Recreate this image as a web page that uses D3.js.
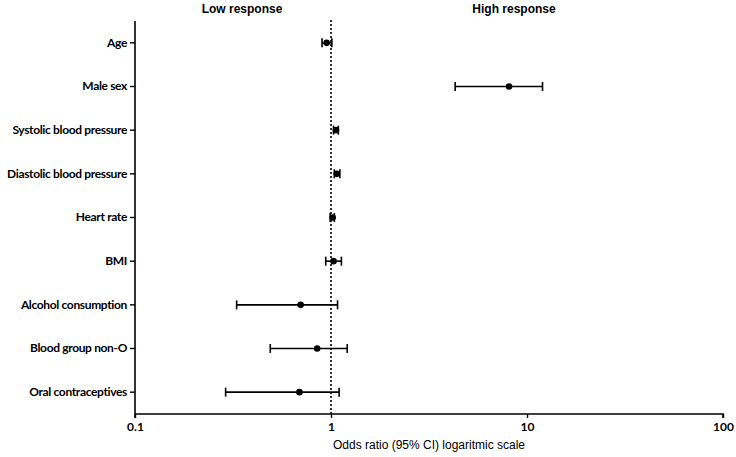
<!DOCTYPE html>
<html>
<head>
<meta charset="utf-8">
<script src="https://cdn.jsdelivr.net/npm/d3@7"></script>
<style>
  body { margin: 0; background: #fff; }
  svg { display: block; }
  .ylab text { font-family: Lato, "Open Sans", sans-serif; font-weight: 700; font-size: 12px; letter-spacing: -0.35px; fill: #000; }
  .xlab text { font-family: Lato, "Open Sans", sans-serif; font-weight: 700; font-size: 12px; fill: #000; }
  .head { font-family: "Liberation Sans", Arial, sans-serif; font-weight: 700; font-size: 12px; }
  .axis-title { font-family: "Liberation Sans", Arial, sans-serif; font-size: 12px; }
</style>
</head>
<body>
<div id="chart"></div>
<script>
// data
var factors = ["Age", "Male sex", "Systolic blood pressure", "Diastolic blood pressure",
    "Heart rate", "BMI", "Alcohol consumption", "Blood group non-O", "Oral contraceptives"];
var oddsRatio = [0.95, 8.1, 1.06, 1.07, 1.02, 1.03, 0.70, 0.85, 0.69];
var ciLow     = [0.90, 4.3, 1.03, 1.04, 0.99, 0.94, 0.33, 0.49, 0.29];
var ciHigh    = [1.01, 12.0, 1.09, 1.11, 1.04, 1.13, 1.08, 1.21, 1.10];
var xTicks = [0.1, 1, 10, 100];

var data = factors.map((f, i) => ({ name: f, or: oddsRatio[i], lo: ciLow[i], hi: ciHigh[i] }));

var svgWidth = 736, svgHeight = 457;
var margin = { top: 21, right: 13, bottom: 43, left: 135 };
var chartWidth = svgWidth - margin.left - margin.right;
var chartHeight = svgHeight - margin.top - margin.bottom;

var svg = d3.select("#chart")
    .append("svg")
    .attr("width", svgWidth)
    .attr("height", svgHeight);

var chartGroup = svg.append("g")
    .attr("transform", `translate(${margin.left}, ${margin.top})`);

// scales
var xScale = d3.scaleLog()
    .domain([0.1, 100])
    .range([0, chartWidth]);

var yScale = d3.scaleBand()
    .domain(factors)
    .range([0, chartHeight]);

// axes
var xAxis = d3.axisBottom(xScale)
    .tickValues(xTicks)
    .tickFormat(d => d)
    .tickSize(4)
    .tickPadding(4);

var yAxis = d3.axisLeft(yScale)
    .tickSize(5)
    .tickPadding(3);

var xg = chartGroup.append("g")
    .attr("class", "xlab")
    .attr("transform", `translate(0, ${chartHeight})`)
    .call(xAxis);

var yg = chartGroup.append("g")
    .attr("class", "ylab")
    .call(yAxis);

[xg, yg].forEach(g => {
    g.select(".domain").attr("stroke", "#000").attr("stroke-width", 1.6);
    g.selectAll(".tick line").attr("stroke", "#000").attr("stroke-width", 1.4);
});
yg.select(".domain").attr("d", `M-0,0V${chartHeight + 4}`);
xg.select(".domain").attr("d", `M0,0H${chartWidth}V4`);

// reference line at OR = 1
chartGroup.append("line")
    .attr("x1", xScale(1))
    .attr("x2", xScale(1))
    .attr("y1", -1)
    .attr("y2", chartHeight)
    .attr("stroke", "#000")
    .attr("stroke-width", 1.6)
    .attr("stroke-dasharray", "2,2");

// error bars and points
var rows = chartGroup.append("g")
    .selectAll("g")
    .data(data)
    .enter()
    .append("g")
    .attr("transform", d => `translate(0, ${yScale(d.name) + yScale.bandwidth() / 2})`);

rows.append("line")
    .attr("x1", d => xScale(d.lo))
    .attr("x2", d => xScale(d.hi))
    .attr("stroke", "#000")
    .attr("stroke-width", 1.6);

rows.selectAll(".cap")
    .data(d => [d.lo, d.hi])
    .enter()
    .append("line")
    .attr("class", "cap")
    .attr("x1", v => xScale(v))
    .attr("x2", v => xScale(v))
    .attr("y1", -4.5)
    .attr("y2", 4.5)
    .attr("stroke", "#000")
    .attr("stroke-width", 1.6);

rows.append("circle")
    .attr("cx", d => xScale(d.or))
    .attr("r", 3.3)
    .attr("fill", "#000");

// headers
chartGroup.append("text")
    .attr("class", "head")
    .attr("x", 242 - margin.left)
    .attr("y", 13 - margin.top)
    .attr("text-anchor", "middle")
    .text("Low response");

chartGroup.append("text")
    .attr("class", "head")
    .attr("x", 514 - margin.left)
    .attr("y", 13 - margin.top)
    .attr("text-anchor", "middle")
    .text("High response");

// x axis title
chartGroup.append("text")
    .attr("class", "axis-title")
    .attr("x", chartWidth / 2)
    .attr("y", chartHeight + 35)
    .attr("text-anchor", "middle")
    .text("Odds ratio (95% CI) logaritmic scale");
</script>
</body>
</html>
